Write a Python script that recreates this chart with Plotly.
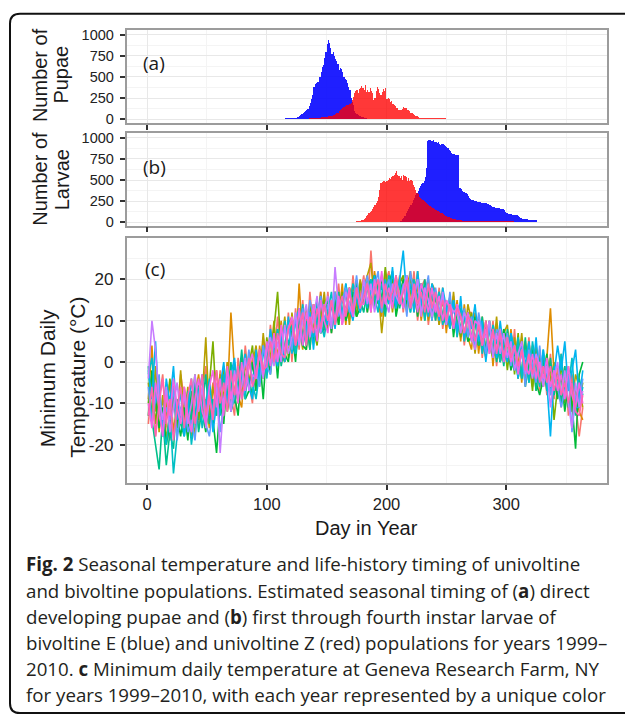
import plotly.graph_objects as go

W, H = 625, 719

# ---------------- data ----------------
# Panel (a): number of pupae per day
pupae_E_start = 115
pupae_E = [8, 8, 9, 9, 10, 10, 10, 11, 12, 14,
           20, 27, 35, 45, 55, 68, 78, 95, 110, 120,
           150, 185, 230, 285, 380, 415, 425, 435, 440, 500,
           555, 610, 640, 720, 790, 885, 930, 900, 840, 770,
           790, 745, 705, 680, 650, 575, 600, 590, 550, 500,
           470, 455, 420, 380, 340, 245, 200, 160, 95, 75,
           55, 45, 35, 30, 25, 18, 15, 10, 6, 4]
pupae_Z_start = 135
pupae_Z = [8, 8, 10, 10, 12, 12, 14, 14, 15, 16, 18, 20, 22, 25,
           25, 28, 30, 32, 35, 38, 42, 48, 55, 65, 75, 90,
           100, 115, 130, 145, 155, 160, 165, 170, 175, 190, 225, 260,
           300, 330, 340, 310, 355, 370, 385, 360, 340, 395, 320, 345,
           320, 360, 335, 300, 225, 250, 330, 375, 350, 300, 280, 320,
           355, 330, 360, 240, 250, 235, 200, 210, 180, 165, 150, 130,
           125, 110, 100, 105, 115, 140, 130, 125, 110, 100, 90, 75,
           65, 55, 45, 38, 30, 20, 15, 12, 10, 9, 8, 8,
           6, 6, 6, 6, 6, 6, 6, 5, 5, 5, 5, 5, 5, 5, 5, 5, 5, 4, 4, 4,
           4, 4, 4, 4, 4, 4, 4]

# Panel (b): number of larvae per day
larvae_E_start = 210
larvae_E = [5, 10, 15, 30, 50, 70, 100, 125, 150, 180, 205, 230,
            260, 285, 315, 345, 370, 400, 420, 445, 460, 480, 530, 640,
            960, 970, 975, 960, 955, 965, 950, 940, 935, 950, 920, 915,
            925, 920, 910, 895, 890, 870, 855, 840, 820, 805, 800, 795,
            795, 795, 790, 400, 395, 370, 360, 350, 345, 330, 305, 285,
            270, 260, 255, 250, 248, 245, 240, 238, 235, 230, 225, 225,
            222, 220, 218, 215, 200, 185, 180, 175, 172, 170, 168, 165,
            160, 158, 155, 150, 140, 120, 110, 100, 95, 92, 90, 88,
            85, 85, 82, 80, 75, 60, 45, 40, 35, 32, 30, 30,
            28, 28, 27, 26, 25, 25, 24, 20]
larvae_Z_start = 175
larvae_Z = [8, 10, 12, 15, 20, 28, 38, 50, 70, 85, 100, 120,
            135, 150, 180, 200, 225, 245, 300, 380, 460, 470, 480, 485,
            470, 490, 500, 520, 510, 530, 540, 560, 580, 605, 560, 545,
            520, 540, 500, 560, 540, 530, 480, 520, 490, 500, 480, 440,
            410, 380, 345, 330, 300, 285, 270, 265, 250, 235, 225, 215,
            200, 185, 175, 168, 160, 150, 140, 135, 130, 120, 110, 100,
            90, 85, 75, 68, 60, 55, 50, 45, 40, 36, 32, 28,
            25, 22, 20, 18, 16, 15, 15, 14, 14, 13, 13, 12,
            12, 12, 12, 11, 11, 11, 11, 10, 10, 10, 10, 10, 10, 10, 10, 10,
            10, 10, 9, 9, 9, 9, 9, 9, 8, 8, 8, 8, 8, 7, 7, 7, 7, 6, 6, 6,
            5, 5, 4, 3]

# Panel (c): minimum daily temperature (every 3rd day)
temp_days = list(range(1, 366, 3))
t1999 = [-15, -5, -18, -9, -3, -15, -19, -9, -14, -3,
         -9, -18, -13, -5, -16, -7, -1, -12, -5, -13,
         -2, -11, 0, -8, -13, 1, -7, 4, -5, -10,
         3, -6, 6, -3, 9, 0, 11, 2, 0, 12,
         0, 13, 3, 15, 3, 17, 7, 5, 17, 7,
         17, 7, 13, 19, 9, 18, 10, 21, 11, 16,
         21, 12, 27, 14, 20, 12, 19, 22, 13, 16,
         21, 12, 19, 14, 22, 10, 18, 20, 9, 17,
         10, 18, 8, 15, 8, 16, 6, 14, 4, 12,
         12, 3, 11, 1, 10, 2, 10, -1, 8, 0,
         7, -2, 8, -4, 5, -5, 6, -6, 2, -7,
         2, -8, 2, -9, -1, -11, -1, -13, -3, -10,
         -18, -11]
t2000 = [-9, 4, -12, -7, -16, -11, -5, -17, -10, -14,
         -6, -13, -18, -8, -3, -12, -9, -16, -6, -2,
         -12, -4, -9, 12, -2, -8, -11, 0, -6, 1,
         -7, 4, -4, 5, -2, 8, 1, 10, 2, 9,
         11, 2, 19, 5, 12, 3, 14, 8, 17, 8,
         11, 8, 17, 10, 19, 9, 18, 14, 20, 12,
         18, 21, 12, 22, 15, 11, 22, 14, 20, 13,
         20, 14, 18, 22, 12, 19, 10, 17, 20, 11,
         16, 9, 18, 7, 16, 8, 15, 5, 14, 6,
         3, 12, 2, 11, 2, 10, -1, 9, 0, 8,
         0, 8, -1, 6, -5, 5, -2, 4, -7, 3,
         -6, 1, 13, -3, -8, 2, -10, -2, -12, -6,
         -12, -14]
t2001 = [-5, -13, -1, -17, -8, -19, -12, -5, -15, -2,
         -14, -6, -12, -18, -4, -9, 6, -13, -6, -11,
         -3, -9, 0, -10, -7, -1, -8, 2, -5, -1,
         4, -4, 7, -2, 1, 10, -1, 3, 11, 1,
         12, 4, 9, 3, 13, 6, 14, 8, 10, 17,
         8, 15, 10, 17, 11, 18, 9, 19, 13, 20,
         16, 21, 24, 14, 18, 7, 16, 21, 12, 20,
         14, 20, 12, 21, 14, 22, 12, 18, 10, 19,
         17, 9, 16, 13, 8, 17, 7, 13, 5, 14,
         10, 2, 11, 5, 1, 9, 2, 11, 0, 7,
         9, -1, 6, -1, 7, -3, 5, -5, 4, -4,
         -6, 2, -5, 0, -8, 1, -7, -1, -10, -3,
         -6, -11]
t2002 = [-10, -3, -15, -7, -18, -13, -4, -9, -16, -12,
         -7, -17, -10, -3, -14, -8, -16, -5, 5, -11,
         -9, -1, -12, -7, -2, -10, 1, -6, -1, 4,
         -6, 3, -4, 6, -1, 8, 17, 2, 0, 10,
         3, 11, 5, 12, 5, 14, 8, 4, 13, 15,
         8, 14, 17, 9, 17, 12, 18, 14, 11, 19,
         14, 19, 13, 21, 18, 14, 23, 15, 20, 12,
         19, 21, 12, 17, 20, 13, 19, 10, 17, 18,
         11, 16, 10, 15, 8, 14, 10, 6, 12, 5,
         12, 4, 9, 3, 10, 4, 1, 8, 0, 6,
         -2, 6, -3, 7, -4, 4, 1, -7, 3, -5,
         2, -6, -1, -14, -6, -1, -8, -2, -12, -6,
         -10, -5]
t2003 = [-13, -2, -9, -16, -11, -20, -15, -6, -13, -18,
         -11, -19, -7, -15, -5, -12, -17, -8, -14, -22,
         -10, -15, -3, -12, -8, -13, -1, -9, -7, 0,
         -7, 1, -9, 4, -3, 6, -4, 7, 2, 0,
         8, 0, 11, 4, 3, 12, 5, 14, 7, 8,
         14, 7, 15, 9, 16, 10, 13, 17, 11, 13,
         19, 12, 18, 21, 14, 20, 12, 19, 22, 11,
         16, 20, 14, 21, 18, 11, 19, 12, 17, 10,
         17, 11, 15, 9, 16, 6, 13, 8, 12, 5,
         6, 11, 4, 9, 2, 10, 1, 6, 0, 8,
         5, -2, 3, -4, 4, -6, 0, 3, -5, -8,
         -4, 2, -7, -2, -9, -3, -12, -5, -10, -21,
         -3, 0]
t2004 = [-1, -14, -20, -26, -13, -25, -17, -21, -9, -15,
         -18, -7, -14, -5, -17, -11, -3, -15, -9, -13,
         -4, -11, -8, 0, -10, -6, 3, -7, -4, -8,
         1, -5, 4, -3, 6, 0, 8, -1, 4, 10,
         4, 2, 12, 6, 10, 3, 13, 9, 16, 8,
         15, 9, 12, 17, 10, 19, 13, 11, 19, 15,
         12, 18, 20, 13, 19, 16, 11, 20, 14, 21,
         13, 18, 21, 12, 19, 16, 13, 20, 12, 18,
         10, 17, 11, 9, 15, 8, 14, 11, 7, 11,
         5, 10, 4, 11, 2, 8, 7, 0, 6, -1,
         8, 0, -2, 5, -4, 6, -5, 2, -7, 1,
         0, -7, 1, -8, -3, -10, -1, -11, -5, -13,
         -4, -8]
t2005 = [-3, 1, -10, -6, -16, -20, -12, -27, -18, -11,
         -16, -9, -20, -13, -6, -16, -10, -4, -14, -8,
         -13, -3, -10, -7, 0, -9, -2, -9, 2, -5,
         -9, -2, 3, -4, 6, 0, 8, 2, 10, 4,
         9, 2, 7, 14, 4, 12, 6, 15, 10, 6,
         12, 17, 9, 15, 11, 17, 13, 19, 15, 12,
         17, 13, 20, 16, 12, 19, 14, 21, 17, 13,
         20, 13, 18, 12, 20, 15, 19, 10, 18, 16,
         13, 17, 9, 14, 10, 15, 6, 13, 11, 6,
         11, 5, 10, 2, 8, 3, 9, 5, 0, 7,
         1, 7, -2, 6, -4, 3, -5, 5, -1, -6,
         3, -5, -8, -1, -7, 2, -9, -6, 1, -11,
         -11, -6]
t2006 = [-2, -9, 5, -12, -16, -4, -10, -1, -14, -7,
         -18, -12, -4, -14, -8, -3, -12, -5, -17, -10,
         -6, 0, -10, -3, 1, -8, -3, 2, -6, -9,
         3, -5, 4, -2, 8, 2, -1, 7, 0, 11,
         2, 10, 13, 4, 8, 12, 3, 13, 7, 14,
         9, 14, 8, 16, 11, 19, 13, 10, 17, 12,
         19, 14, 17, 21, 15, 12, 20, 14, 23, 13,
         20, 27, 15, 19, 12, 22, 14, 18, 11, 19,
         16, 10, 18, 13, 8, 15, 7, 16, 5, 12,
         8, 14, 5, 10, 0, 8, 6, 1, 10, 3,
         0, 7, 3, -4, 5, -1, 5, -3, 6, -5,
         3, -5, -18, -3, 4, -2, 5, -7, -2, 3,
         -9, -2]
t2007 = [-6, -15, -9, -3, -18, -11, -14, -6, -19, -12,
         -7, -17, -14, -19, -8, -4, -15, -18, -11, -6,
         -17, -10, -3, -12, -8, -1, -9, -6, 3, -5,
         -2, -6, 4, -1, -3, 5, 0, 8, 2, 9,
         3, 11, 5, 13, 5, 15, 11, 6, 16, 10,
         14, 8, 17, 11, 15, 18, 12, 14, 21, 13,
         17, 21, 14, 18, 22, 12, 17, 20, 15, 19,
         14, 19, 11, 22, 16, 20, 12, 16, 21, 10,
         18, 12, 16, 9, 17, 8, 14, 7, 13, 6,
         11, 3, 12, 7, 2, 10, 1, 8, 6, 0,
         7, -1, 4, -3, 3, -6, 3, -1, -5, 4,
         -5, 0, -8, -2, -6, -11, -7, -3, -17, -8,
         -10, -4]
t2008 = [-4, 10, 3, -9, -14, -6, -17, -11, -5, -13,
         -8, -15, -10, -3, -12, -6, -16, -9, -13, -5,
         -22, -9, -4, -12, -2, -8, -6, 1, -7, -3,
         -4, 2, -4, 3, 6, -1, 5, 0, 9, 2,
         6, 12, 4, 10, 14, 6, 11, 16, 7, 13,
         16, 8, 23, 13, 10, 17, 14, 11, 18, 13,
         20, 14, 19, 12, 17, 21, 15, 12, 19, 16,
         14, 18, 21, 13, 16, 20, 11, 18, 15, 11,
         14, 11, 17, 9, 14, 12, 13, 7, 12, 10,
         6, 3, 10, 6, 6, 10, 1, 7, 2, 7,
         1, 5, -2, 2, 5, -3, 1, -4, 2, -1,
         -6, -1, -11, -4, 0, -8, -2, -10, -16, -5,
         -11, -7]
t2009 = [-10, -16, -5, -12, -18, -8, -13, -4, -11, -15,
         -6, -13, -17, -9, -4, -12, -15, -6, -2, -11,
         -4, -13, -1, -9, -3, -10, 0, -7, -1, 2,
         -4, 3, -3, 5, -1, 7, 0, 9, 2, 8,
         11, 4, 13, 4, 12, 7, 14, 5, 15, 10,
         7, 15, 10, 16, 9, 13, 18, 11, 17, 14,
         14, 19, 12, 20, 15, 22, 14, 18, 13, 20,
         16, 13, 20, 14, 18, 12, 19, 16, 12, 18,
         12, 16, 10, 15, 13, 8, 14, 11, 7, 12,
         5, 10, 9, 4, 8, 2, 7, 3, 8, 0,
         5, 0, 4, -3, 3, -1, -3, 2, -4, 0,
         -4, 1, -6, -2, -7, -3, -9, -1, -8, -11,
         -5, -10]
t2010 = [-13, -6, -18, -10, -4, -15, -9, -19, -11, -6,
         -16, -8, -4, -15, -10, -3, -13, -8, -14, -2,
         -10, -5, -12, -2, -8, -1, -9, -4, 1, -6,
         -3, 3, -2, -1, 5, 0, 7, 2, 1, 8,
         10, 4, 8, 12, 4, 11, 7, 13, 8, 14,
         10, 15, 9, 13, 16, 11, 17, 12, 18, 13,
         16, 19, 14, 17, 20, 13, 19, 15, 17, 21,
         14, 17, 20, 13, 19, 14, 17, 12, 19, 13,
         17, 11, 15, 10, 14, 9, 13, 11, 7, 11,
         10, 5, 9, 4, 10, 3, 8, 2, 7, 1,
         6, 1, 4, -1, 3, -2, 2, -3, 1, -5,
         -1, -5, -1, -7, -3, -8, -5, -10, -5, -12,
         -13, -8]

years = ["1999", "2000", "2001", "2002", "2003", "2004",
         "2005", "2006", "2007", "2008", "2009", "2010"]
year_colors = ["#F8766D", "#DE8C00", "#B79F00", "#7CAE00", "#00BA38", "#00C08B",
               "#00BFC4", "#00B4F0", "#619CFF", "#C77CFF", "#F564E3", "#FF64B0"]
temp_series = [t1999, t2000, t2001, t2002, t2003, t2004,
               t2005, t2006, t2007, t2008, t2009, t2010]

x_ticks = [0, 100, 200, 300]
count_ticks = [0, 250, 500, 750, 1000]
count_labels = ["0", "250", "500", "750", "1000"]
temp_ticks = [-20, -10, 0, 10, 20]
temp_labels = ["-20", "-10", "0", "10", "20"]

caption_lines = [
    "<b>Fig. 2</b> Seasonal temperature and life-history timing of univoltine",
    "and bivoltine populations. Estimated seasonal timing of (<b>a</b>) direct",
    "developing pupae and (<b>b</b>) first through fourth instar larvae of",
    "bivoltine E (blue) and univoltine Z (red) populations for years 1999–",
    "2010. <b>c</b> Minimum daily temperature at Geneva Research Farm, NY",
    "for years 1999–2010, with each year represented by a unique color",
]

# ---------------- figure ----------------
def px(x):
    return x / W

def py(y):
    return 1 - y / H

BLUE = "rgba(0,0,255,0.88)"
RED = "rgba(255,0,0,0.78)"

fig = go.Figure()

def bars(start, vals, color, xa, ya):
    days = list(range(start, start + len(vals)))
    fig.add_trace(go.Bar(x=days, y=vals, width=1, marker=dict(color=color, line=dict(width=0)),
                         xaxis=xa, yaxis=ya, showlegend=False, hoverinfo="skip"))

bars(pupae_E_start, pupae_E, BLUE, "x", "y")
bars(pupae_Z_start, pupae_Z, RED, "x", "y")
bars(larvae_E_start, larvae_E, BLUE, "x2", "y2")
bars(larvae_Z_start, larvae_Z, RED, "x2", "y2")

for name, vals, col in zip(years, temp_series, year_colors):
    fig.add_trace(go.Scatter(x=temp_days[:len(vals)], y=vals, mode="lines", name=name,
                             line=dict(color=col, width=1.6), xaxis="x3", yaxis="y3",
                             showlegend=False, hoverinfo="skip"))

XDOM = [px(126.5), px(607)]
GRID = "#e8e8e8"
MINOR = "#f4f4f4"
BORDER = "#9c9c9c"
TICKC = "#333333"

def xaxis(show_labels, anchor):
    return dict(domain=XDOM, range=[-17.25, 384.25], anchor=anchor,
                tickvals=x_ticks, showticklabels=show_labels, ticks="outside", ticklen=5,
                tickwidth=1.5, tickcolor=TICKC, showgrid=True, gridcolor=GRID, gridwidth=1,
                minor=dict(tickvals=[50, 150, 250, 350], showgrid=True, gridcolor=MINOR, gridwidth=0.8),
                showline=True, linecolor=BORDER, linewidth=1.5, mirror=True, zeroline=False,
                tickfont=dict(family="Liberation Sans, Arial", size=16.5, color="#222"))

def yaxis(dom, rng, tvals, ttext, minor_vals, fsize, anchor):
    return dict(domain=dom, range=rng, anchor=anchor, tickvals=tvals, ticktext=ttext,
                ticks="outside", ticklen=5,
                tickwidth=1.5, tickcolor=TICKC, showgrid=True, gridcolor=GRID, gridwidth=1,
                minor=dict(tickvals=minor_vals, showgrid=True, gridcolor=MINOR, gridwidth=0.8),
                showline=True, linecolor=BORDER, linewidth=1.5, mirror=True, zeroline=False,
                ticklabelstandoff=3,
                tickfont=dict(family="Liberation Sans, Arial", size=fsize, color="#222"))

fig.update_layout(
    width=W, height=H, margin=dict(l=0, r=0, t=0, b=0),
    paper_bgcolor="white", plot_bgcolor="white",
    barmode="overlay", bargap=0,
    xaxis=xaxis(False, "y"),
    xaxis2=xaxis(False, "y2"),
    xaxis3=xaxis(True, "y3"),
    yaxis=yaxis([py(121), py(26.7)], [-50, 1050], count_ticks, count_labels,
                [125, 375, 625, 875], 14.5, "x"),
    yaxis2=yaxis([py(224.5), py(131)], [-40, 1052], count_ticks, count_labels,
                 [125, 375, 625, 875], 14.5, "x2"),
    yaxis3=yaxis([py(485.5), py(236.7)], [-29.4, 30.1], temp_ticks, temp_labels,
                 [-25, -15, -5, 5, 15, 25], 17, "x3"),
)

ann = []
def label(text, x, y, size, family="Liberation Sans, Arial", angle=0, xanchor="center"):
    ann.append(dict(text=text, x=px(x), y=py(y), xref="paper", yref="paper", showarrow=False,
                    xanchor=xanchor, yanchor="middle", textangle=angle,
                    font=dict(family=family, size=size, color="#1a1a1a")))

# axis titles
label("Number of", 40, 72, 20, angle=-90)
label("Pupae", 61.5, 72, 20, angle=-90)
label("Number of", 40, 177, 20, angle=-90)
label("Larvae", 61.5, 178, 20, angle=-90)
label("Minimum Daily", 47, 379, 21, angle=-90)
label("Temperature (°C)", 77.5, 378, 21, angle=-90)
label("Day in Year", 366.8, 531, 20)

# panel labels
label("(a)", 154, 60, 19, family="Open Sans, Lato")
label("(b)", 154, 165, 19, family="Open Sans, Lato")
label("(c)", 155, 268, 19, family="Open Sans, Lato")

# caption
cap_y = [567, 593.5, 620, 646.5, 673, 699]
for line, yy in zip(caption_lines, cap_y):
    ann.append(dict(text=line, x=px(24), y=py(yy), xref="paper", yref="paper", showarrow=False,
                    xanchor="left", yanchor="middle",
                    font=dict(family="Open Sans, Lato", size=18.7, color="#231f20")))

fig.update_layout(annotations=ann)

# rounded outer frame (left corners rounded, right side runs off the page)
r = 10
path = (f"M {px(640)},{py(10)} L {px(10 + r)},{py(10)} Q {px(10)},{py(10)} {px(10)},{py(10 + r)} "
        f"L {px(10)},{py(718 - r)} Q {px(10)},{py(718)} {px(10 + r)},{py(718)} L {px(640)},{py(718)}")
fig.add_shape(type="path", path=path, xref="paper", yref="paper",
              line=dict(color="#111111", width=2), fillcolor="rgba(0,0,0,0)", layer="above")

fig.write_html("out.html", config={"displayModeBar": False},
               post_script="document.body.style.margin='0';document.body.style.overflow='hidden';")
